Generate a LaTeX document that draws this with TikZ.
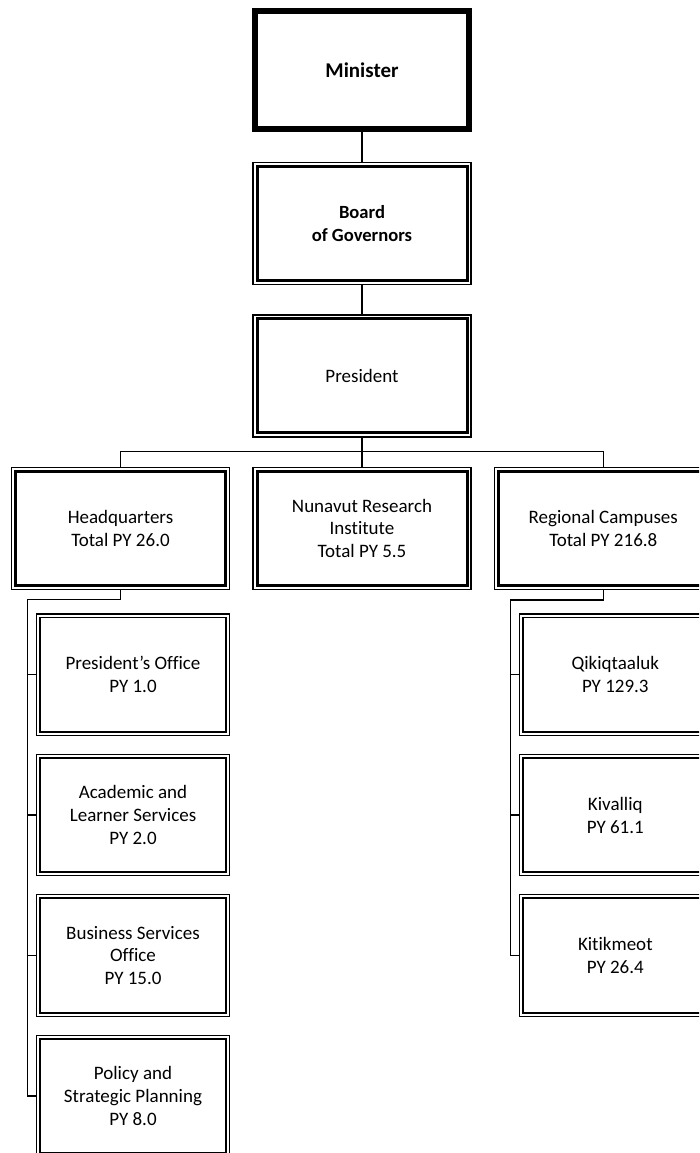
\documentclass[tikz,border=0pt]{standalone}
\usepackage{fontspec}
\setmainfont{Carlito}[Ligatures=NoCommon]
\begin{document}
\begin{tikzpicture}[x=1pt,y=-1pt,
  txt/.style={font=\fontsize{19}{22.8}\selectfont, align=center, text=black},
  ministerbox/.style={draw, line width=6pt, outer sep=0pt, inner sep=0pt,
    minimum width=214pt, minimum height=118pt, align=center,
    font=\bfseries\fontsize{21}{25}\selectfont},
  topbox/.style={txt, draw, line width=1.6pt, outer sep=0pt, inner sep=0pt,
    minimum width=218pt, minimum height=122pt},
  subbox/.style={txt, draw, line width=1.2pt, outer sep=0pt, inner sep=0pt,
    minimum width=192.4pt, minimum height=121.3pt},
  link/.style={line width=1.3pt},
]
\useasboundingbox (0,0) rectangle (699,1153);
\clip (0,0) rectangle (699,1153);

% top of the hierarchy
\node[ministerbox] (minister) at (362,70) {Minister};
\node[topbox, font=\bfseries\fontsize{18.6}{23.3}\selectfont] (board) at (362,223.4) {Board\\of Governors};
\node[topbox] (pres) at (362,375.9) {President};

% divisions
\node[topbox] (hq)  at (120.5,528.3) {Headquarters\\Total PY 26.0};
\node[topbox] (nri) at (362,528.3)   {Nunavut Research\\Institute\\Total PY 5.5};
\node[topbox] (rc)  at (603.3,528.3) {Regional Campuses\\Total PY 216.8};

% headquarters units
\node[subbox] (po)  at (133,674.7)  {President’s Office\\PY 1.0};
\node[subbox] (als) at (133,815.1)  {Academic and\\Learner Services\\PY 2.0};
\node[subbox] (bso) at (133,955.5)  {Business Services\\Office\\PY 15.0};
\node[subbox] (psp) at (133,1095.9) {Policy and\\Strategic Planning\\PY 8.0};

% campuses
\node[subbox] (qik) at (615.3,674.7) {Qikiqtaaluk\\PY 129.3};
\node[subbox] (kiv) at (615.3,815.1) {Kivalliq\\PY 61.1};
\node[subbox] (kit) at (615.3,955.5) {Kitikmeot\\PY 26.4};

% inner lines of the double borders
\foreach \n in {board,pres,hq,nri,rc}
  \draw[line width=3pt] ([shift={(4pt,4pt)}]\n.south west) rectangle ([shift={(-4pt,-4pt)}]\n.north east);
\foreach \n in {po,als,bso,psp,qik,kiv,kit}
  \draw[line width=1.8pt] ([shift={(3.5pt,3.5pt)}]\n.south west) rectangle ([shift={(-3.5pt,-3.5pt)}]\n.north east);

% connectors
\coordinate (busy) at (0,451.7);
\coordinate (hqbend) at (27.3,599.5);
\coordinate (rcbend) at (510.7,600);

\draw[link] (minister) -- (board);
\draw[link] (board) -- (pres);
\draw[link] (pres.south) -- (nri.north);
\draw[link] (pres.south |- busy) -| (hq.north);
\draw[link] (pres.south |- busy) -| (rc.north);

\draw[link] (hq.south) |- (hqbend) |- (psp.west);
\foreach \n in {po,als,bso}
  \draw[link] (\n.west -| hqbend) -- (\n.west);

\draw[link] (rc.south) |- (rcbend) |- (kit.west);
\foreach \n in {qik,kiv}
  \draw[link] (\n.west -| rcbend) -- (\n.west);
\end{tikzpicture}
\end{document}
